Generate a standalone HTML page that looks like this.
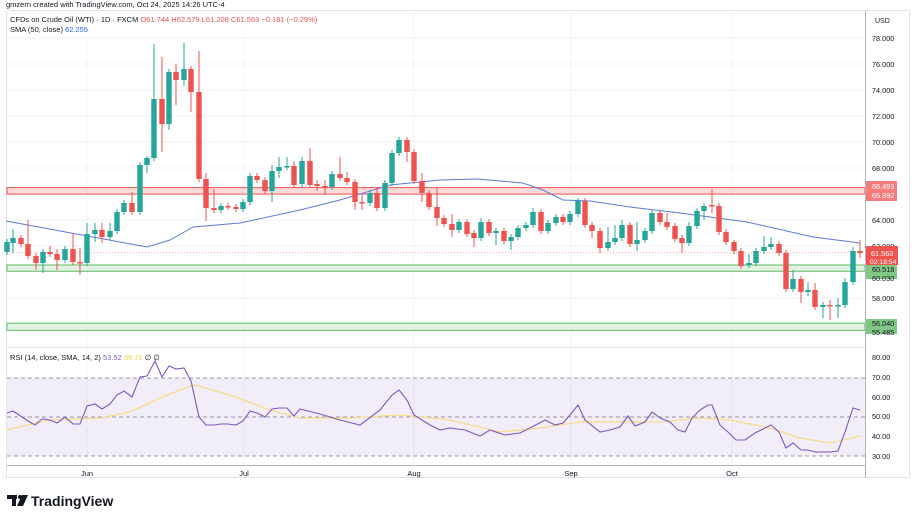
<!DOCTYPE html>
<html><head><meta charset="utf-8"><style>
body{margin:0;background:#fff;width:912px;height:513px;overflow:hidden;font-family:"Liberation Sans",sans-serif}
</style></head><body>
<svg id="s" width="912" height="513" xmlns="http://www.w3.org/2000/svg" style="position:absolute;left:0;top:0;font-family:'Liberation Sans',sans-serif">
<text x="6" y="7" font-size="7.5" fill="#131722">gmzern created with TradingView.com, Oct 24, 2025 14:26 UTC-4</text>
<rect x="6.5" y="10.5" width="903" height="467" fill="none" stroke="#e0e3eb"/>
<g stroke="#f0f3fa" stroke-width="1">
<line x1="87" y1="11" x2="87" y2="465"/><line x1="244" y1="11" x2="244" y2="465"/><line x1="414" y1="11" x2="414" y2="465"/><line x1="571" y1="11" x2="571" y2="465"/><line x1="732" y1="11" x2="732" y2="465"/>
<line x1="7" y1="38" x2="865" y2="38"/><line x1="7" y1="64" x2="865" y2="64"/><line x1="7" y1="90" x2="865" y2="90"/><line x1="7" y1="116" x2="865" y2="116"/><line x1="7" y1="142" x2="865" y2="142"/><line x1="7" y1="168" x2="865" y2="168"/><line x1="7" y1="220" x2="865" y2="220"/><line x1="7" y1="246" x2="865" y2="246"/><line x1="7" y1="298" x2="865" y2="298"/>
</g>
<rect x="7" y="187.6" width="858" height="6.5" fill="#fbdada" stroke="#ef5350" stroke-width="1"/>
<rect x="7" y="265" width="858" height="6.3" fill="#e3f3e4" stroke="#81c784" stroke-width="1.3"/>
<rect x="7" y="323.2" width="858" height="7.2" fill="#e3f3e4" stroke="#81c784" stroke-width="1.3"/>
<line x1="7" y1="252.7" x2="865" y2="252.7" stroke="#f3a3a2" stroke-width="1" stroke-dasharray="1,2"/>
<polyline fill="none" stroke="#5b7bd6" stroke-width="1" points="6,221 147,247 170,240 193,227 240,223 300,210 340,200 390,185 440,180 477,179 523,183 543,190 563,200 590,201 630,207 680,213 747,222 813,237 860,243"/>
<g id="c"></g>
<line x1="865.5" y1="11" x2="865.5" y2="478" stroke="#b2b5be"/>
<line x1="7" y1="347.5" x2="865" y2="347.5" stroke="#e0e3eb"/>
<line x1="7" y1="465.5" x2="865" y2="465.5" stroke="#b2b5be"/>
<g font-size="7.3" fill="#131722">
<text x="875" y="23" font-size="7">USD</text>
<text x="872" y="41">78.000</text><text x="872" y="67">76.000</text><text x="872" y="93">74.000</text><text x="872" y="119">72.000</text><text x="872" y="145">70.000</text><text x="872" y="171">68.000</text><text x="872" y="223">64.000</text><text x="872" y="249">62.000</text><text x="872" y="301">58.000</text>
</g>
<rect x="866" y="181" width="31" height="20" fill="#f77c7b"/>
<rect x="866" y="246" width="32" height="19" fill="#ef5350"/>
<rect x="866" y="265" width="31" height="14" fill="#81c784"/>
<rect x="866" y="319" width="31" height="15" fill="#81c784"/>
<g font-size="7.3" fill="#fff">
<text x="872" y="189">66.493</text><text x="872" y="198">65.992</text>
<text x="871" y="256">61.563</text><text x="870" y="264" font-size="6.8">02:18:54</text>
</g>
<g font-size="7.3" fill="#131722">
<text x="872" y="272">60.518</text><text x="872" y="281">60.030</text>
<text x="872" y="326">56.040</text><text x="872" y="335">55.485</text>
</g>
<rect x="7" y="12" width="330" height="25" fill="#fff" opacity="0.85"/>
<text x="10" y="22" font-size="7.5" fill="#131722">CFDs on Crude Oil (WTI) · 1D · FXCM <tspan fill="#ef5350">O61.744 H62.579 L61.208 C61.563 −0.181 (−0.29%)</tspan></text>
<text x="10" y="32" font-size="7.5" fill="#131722">SMA (50, close) <tspan fill="#2962ff">62.255</tspan></text>
<rect x="7" y="378" width="858" height="78" fill="#7e57c2" opacity="0.1"/>
<g stroke="#787b86" stroke-dasharray="4,3" stroke-width="0.8">
<line x1="7" y1="378" x2="865" y2="378"/><line x1="7" y1="417" x2="865" y2="417"/><line x1="7" y1="456" x2="865" y2="456"/></g>
<polyline fill="none" stroke="#f7dc8a" stroke-width="1.3" points="6,430 50,420 100,418 130,412 160,398 180,390 195,385 230,395 270,410 300,418 350,418 400,415 450,420 500,432 540,428 580,422 620,422 660,422 700,418 730,420 770,428 800,438 830,443 860,436"/>
<polyline fill="none" stroke="#7e57c2" stroke-width="1.1" points="7,413 13,411 28,421 35,425 42,419 50,420 57,423 65,417 73,424 80,424 87,406 95,404 102,409 110,404 117,395 124,391 132,397 140,377 147,376 155,361 162,377 169,366 176,369 184,368 191,381 199,417 206,425 214,425 221,424 228,424 236,425 243,421 250,411 257,413 265,417 272,409 279,408 287,408 294,416 300,409 320,414 340,420 360,425 380,410 392,395 399,390 407,400 414,415 430,425 440,430 450,428 465,430 480,436 490,430 505,435 520,433 530,428 545,420 555,425 563,423 570,415 578,405 585,420 600,432 610,430 620,427 628,416 635,426 645,422 652,412 660,418 670,422 678,430 685,432 692,418 700,410 708,405 712,405 720,425 728,432 736,440 745,440 755,433 765,428 771,425 779,432 786,448 793,443 801,450 808,450 815,452 823,452 830,452 838,451 845,432 853,408 860,410"/>
<text x="10" y="360" font-size="7.5" fill="#131722">RSI (14, close, SMA, 14, 2) <tspan fill="#7e57c2">53.52</tspan> <tspan fill="#f7c948">39.71</tspan> ∅ ∅</text>
<g font-size="7.3" fill="#131722">
<text x="872" y="360">80.00</text><text x="872" y="380">70.00</text><text x="872" y="400">60.00</text><text x="872" y="419">50.00</text><text x="872" y="439">40.00</text><text x="872" y="459">30.00</text>
</g>
<g font-size="7.5" fill="#131722" text-anchor="middle">
<text x="87" y="476">Jun</text><text x="244" y="476">Jul</text><text x="414" y="476">Aug</text><text x="571" y="476">Sep</text><text x="732" y="476">Oct</text>
</g>
<g fill="#131722"><rect x="7" y="495" width="10" height="4"/><rect x="12" y="495" width="4" height="11"/><circle cx="20" cy="497" r="2"/><polygon points="22,495 28,495 23,506 17,506"/></g>
<text x="31" y="506" font-size="14" font-weight="bold" fill="#131722">TradingView</text>
</svg>
<script>
var d=[[7,252,242],[13,243,238,229,253],[21,238,244],[28,244,256,220],[36,256,263,0,270],[43,263,252,0,273],[50,252,254,246,257],[57,254,260,249,270],[65,260,249],[73,249,262,233],[80,262,263,248,275],[87,263,234,223],[95,234,230,223,242],[102,230,237,223,243],[110,237,231,223],[117,231,212],[124,212,203],[132,203,212,192],[140,212,165],[147,165,158,156,173],[154,158,99,44],[162,99,124,57,152],[169,124,72,0,130],[176,72,80,64,105],[184,80,69,43,86],[191,69,92,0,112],[199,92,179,51],[206,179,208,173,221],[214,208,210,189,213],[221,210,206],[228,206,207],[236,207,209],[243,209,202],[250,202,176],[257,176,180],[265,180,191],[272,191,171,165,202],[279,171,167,157,178],[287,167,166,157],[294,166,185,161],[302,184,161,157],[310,161,185,148],[317,184,186,180,191],[325,186,187,180,195],[332,187,174],[340,174,178,157],[347,178,182,172],[355,182,202,0,210],[362,202,203,195,210],[370,203,193],[377,193,208,187],[385,208,183],[392,183,153],[399,153,140,137],[407,140,152,0,162],[414,152,181],[422,181,193,173,202],[429,193,207],[437,207,218,187,226],[444,218,224],[452,224,230,214,237],[459,230,222],[467,222,234],[474,233,238,0,247],[481,238,222,218],[489,222,233],[496,233,231,0,245],[504,231,241],[511,241,237,0,250],[518,237,228],[526,228,225],[533,225,212,208],[541,212,231],[548,231,223],[556,223,217],[563,217,222],[570,222,214],[578,214,201,198],[585,201,225],[592,225,231,0,238],[600,231,248,0,253],[608,248,242,227],[615,242,238,225],[622,238,225,220],[630,225,244],[637,244,240,222,251],[645,240,231],[652,231,213],[660,213,222],[667,222,227,213],[675,226,239],[682,238,243,0,253],[689,243,226,222],[697,226,211],[704,211,206,203,220],[712,205,206,189,213],[719,206,232],[726,232,242],[734,242,251,240],[741,251,266],[749,265,263,254,268],[756,263,251],[764,251,247,236],[771,247,244,237],[779,244,253],[786,253,289],[793,289,279,270],[801,279,292,0,303],[808,292,290,282,296],[815,290,307,283],[823,307,305,302,318],[830,305,306,300,320],[838,306,305,298,318],[845,305,282,278],[853,282,251,247],[860,251,253,240,258]];
var g=document.getElementById('c'),h='';
d.forEach(function(c){var x=c[0],o=c[1],cl=c[2],t=Math.min(o,cl),b=Math.max(o,cl);var hi=c[3]||t-3,lo=c[4]||b+3;var col=cl>o?'#ef5350':'#26a69a';if(b-t<1.5){b=t+1.5;}
h+='<line x1="'+x+'" y1="'+hi+'" x2="'+x+'" y2="'+lo+'" stroke="'+col+'" stroke-width="1"/><rect x="'+(x-2.7)+'" y="'+t+'" width="5.4" height="'+(b-t)+'" fill="'+col+'"/>';});
g.innerHTML=h;
</script>
</body></html>
